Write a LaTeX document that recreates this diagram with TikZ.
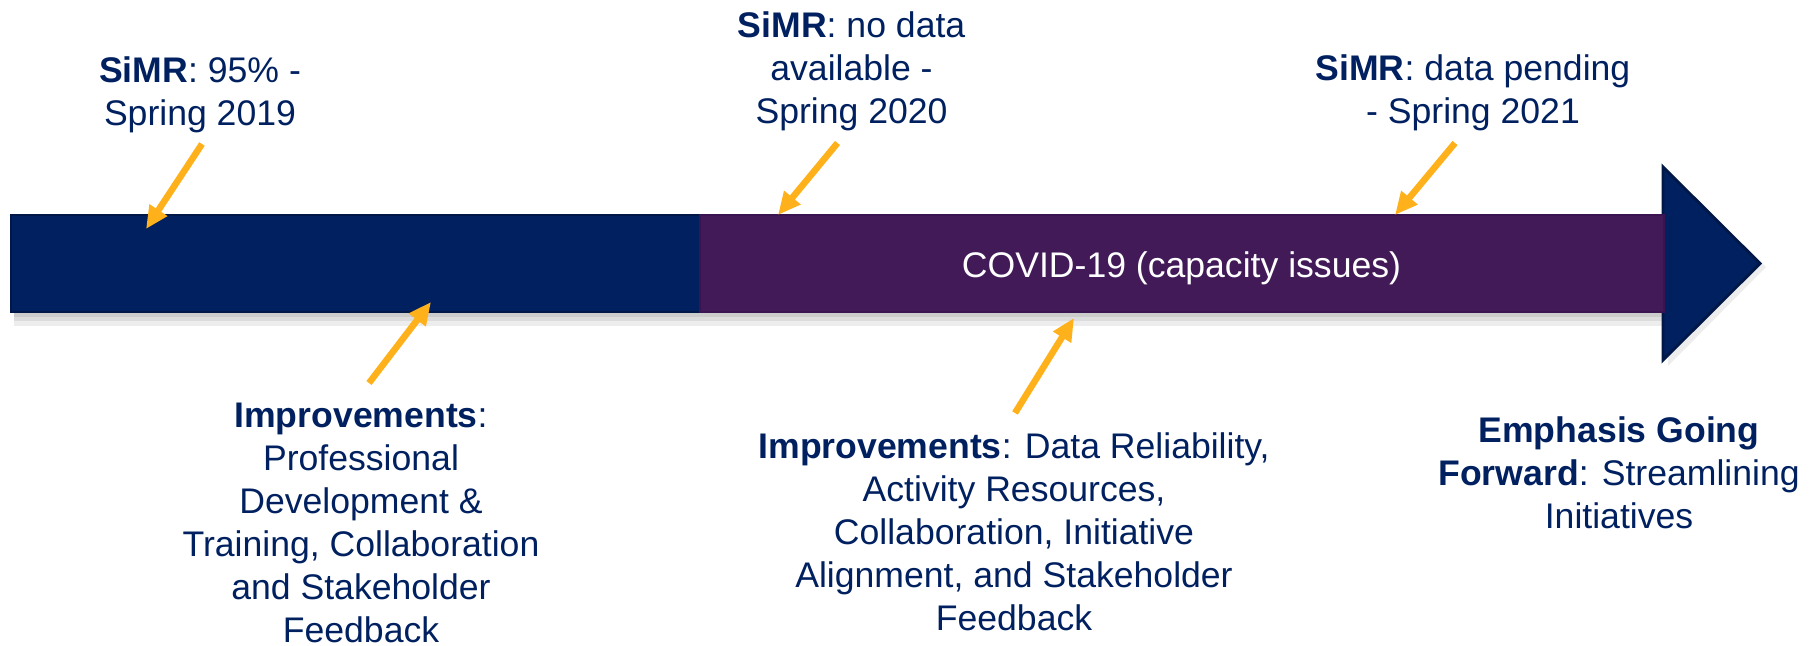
\documentclass[tikz,border=0pt]{standalone}
\usepackage{fontspec}
\setmainfont{Liberation Sans}
\usetikzlibrary{arrows.meta}
\definecolor{navy}{HTML}{002060}
\definecolor{navyedge}{HTML}{001848}
\definecolor{plum}{HTML}{421A58}
\definecolor{plumedge}{HTML}{3A1450}
\definecolor{amber}{HTML}{FFB11B}
\begin{document}
\begin{tikzpicture}[x=0.75pt,y=-0.75pt,
  lbl/.style={text=navy, align=center, inner sep=0pt, anchor=base, font=\fontsize{26.7}{32.2}\selectfont},
  pointer/.style={draw=amber, line width=4.9pt, -{Triangle[length=17pt,width=15pt]}},
  shade1/.style={fill=black, opacity=0.07},
]
\useasboundingbox (0,0) rectangle (1817,646);
% soft shadow under the bar
\fill[shade1] (14,312) rectangle (1666,326);
\fill[shade1] (14,312) rectangle (1666,321);
\fill[shade1] (14,312) rectangle (1666,317);
\fill[shade1] (1668,170) -- (1766,267) -- (1668,366) -- cycle;
% bar
\filldraw[fill=navy, draw=navyedge, line width=2pt] (11,215) rectangle (700,312);
\filldraw[fill=navy, draw=navyedge, line width=2.2pt] (1663,167) -- (1760,263.5) -- (1663,360) -- cycle;
\filldraw[fill=plum, draw=plumedge, line width=2pt] (700,215) rectangle (1664,312);
\node[font=\fontsize{26.7}{32}\selectfont, text=white, anchor=base, inner sep=0pt] (covid) at (1181.5,277) {COVID-19 (capacity issues)};
% labels (anchor = baseline of the last line)
\node[lbl] (s19) at (200,125) {\textbf{SiMR}: 95\% -\\Spring 2019};
\node[lbl] (s20) at (851.5,123) {\textbf{SiMR}: no data\\available -\\Spring 2020};
\node[lbl] (s21) at (1473,123) {\textbf{SiMR}: data pending\\- Spring 2021};
\node[lbl] (imp1) at (361,642) {\textbf{Improvements}:\\Professional\\Development \&\\Training, Collaboration\\and Stakeholder\\Feedback};
\node[lbl] (imp2) at (1014,630) {\textbf{Improvements}: Data Reliability,\\Activity Resources,\\Collaboration, Initiative\\Alignment, and Stakeholder\\Feedback};
\node[lbl] (emph) at (1619,528) {\textbf{Emphasis Going}\\\textbf{Forward}: Streamlining\\Initiatives};
% pointers
\coordinate (a1t) at (202,144); \coordinate (a1h) at (146,229);
\coordinate (a2t) at (837.5,143); \coordinate (a2h) at (778,215);
\coordinate (a3t) at (1455,143); \coordinate (a3h) at (1395,215);
\coordinate (a4t) at (369,383); \coordinate (a4h) at (431,302);
\coordinate (a5t) at (1015,413); \coordinate (a5h) at (1074,318);
\draw[pointer] (a1t) -- (a1h);
\draw[pointer] (a2t) -- (a2h);
\draw[pointer] (a3t) -- (a3h);
\draw[pointer] (a4t) -- (a4h);
\draw[pointer] (a5t) -- (a5h);
\end{tikzpicture}
\end{document}
